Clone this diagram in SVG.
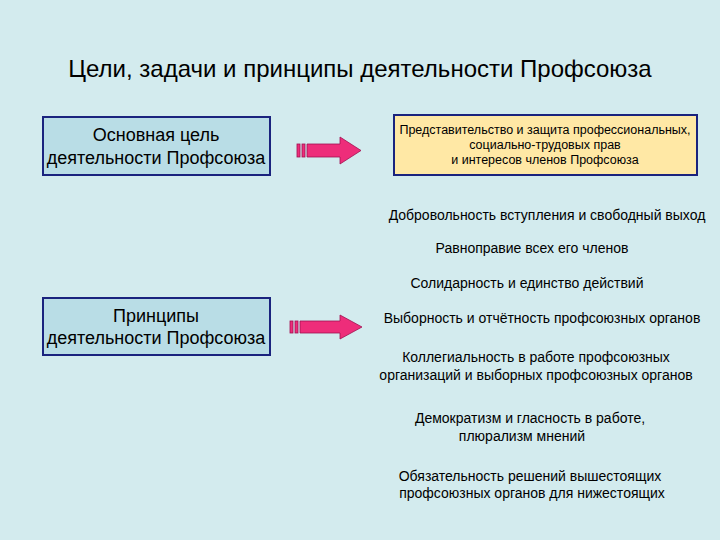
<svg xmlns="http://www.w3.org/2000/svg" width="720" height="540" viewBox="0 0 720 540">
<style>
text{font-family:"Liberation Sans",Arial,sans-serif;fill:#000}
.big{font-size:18px}
.sm{font-size:12.5px}
.it{font-size:14px}
.box{stroke:#1a237e;stroke-width:2}
.arr{fill:#ee2d7a;stroke:#a01050;stroke-width:0.8}
</style>
<rect width="720" height="540" fill="#d3ebee"/>
<text x="360" y="77" text-anchor="middle" font-size="24">Цели, задачи и принципы деятельности Профсоюза</text>
<g id="goal">
<rect class="box" x="43" y="117" width="227" height="58" fill="#b9dde6"/>
<text class="big" x="156" y="141" text-anchor="middle">Основная цель</text>
<text class="big" x="156" y="164" text-anchor="middle">деятельности Профсоюза</text>
</g>
<g id="goaltext">
<rect class="box" x="394" y="115" width="303" height="60" fill="#ffe8a5"/>
<text class="sm" x="545" y="134" text-anchor="middle">Представительство и защита профессиональных,</text>
<text class="sm" x="545" y="149" text-anchor="middle">социально-трудовых   прав</text>
<text class="sm" x="545" y="164" text-anchor="middle">и  интересов  членов   Профсоюза</text>
</g>
<g id="principles">
<rect class="box" x="43" y="298" width="227" height="57" fill="#b9dde6"/>
<text class="big" x="156" y="322" text-anchor="middle">Принципы</text>
<text class="big" x="156" y="344" text-anchor="middle">деятельности Профсоюза</text>
</g>
<g id="connectors">
<rect class="arr" x="297" y="144" width="3" height="13"/>
<rect class="arr" x="302" y="144" width="3" height="13"/>
<path class="arr" d="M307 144H340V137L361 150.5L340 164V157H307Z"/>
<rect class="arr" x="290" y="321" width="3" height="12"/>
<rect class="arr" x="295" y="321" width="3" height="12"/>
<path class="arr" d="M300 321H340V315L362 327L340 339V333H300Z"/>
</g>
<g id="list">
<text class="it" x="547" y="220" text-anchor="middle">Добровольность вступления и свободный выход</text>
<text class="it" x="532" y="253" text-anchor="middle">Равноправие всех его членов</text>
<text class="it" x="527" y="288" text-anchor="middle">Солидарность и единство действий</text>
<text class="it" x="542" y="323" text-anchor="middle">Выборность и отчётность профсоюзных органов</text>
<text class="it" x="536" y="362" text-anchor="middle">Коллегиальность в работе профсоюзных</text>
<text class="it" x="536" y="380" text-anchor="middle">организаций и выборных профсоюзных органов</text>
<text class="it" x="530" y="423" text-anchor="middle">Демократизм  и  гласность  в  работе,</text>
<text class="it" x="522" y="441" text-anchor="middle">плюрализм  мнений</text>
<text class="it" x="530" y="481" text-anchor="middle">Обязательность решений вышестоящих</text>
<text class="it" x="532" y="498" text-anchor="middle">профсоюзных  органов для нижестоящих</text>
</g>
</svg>
